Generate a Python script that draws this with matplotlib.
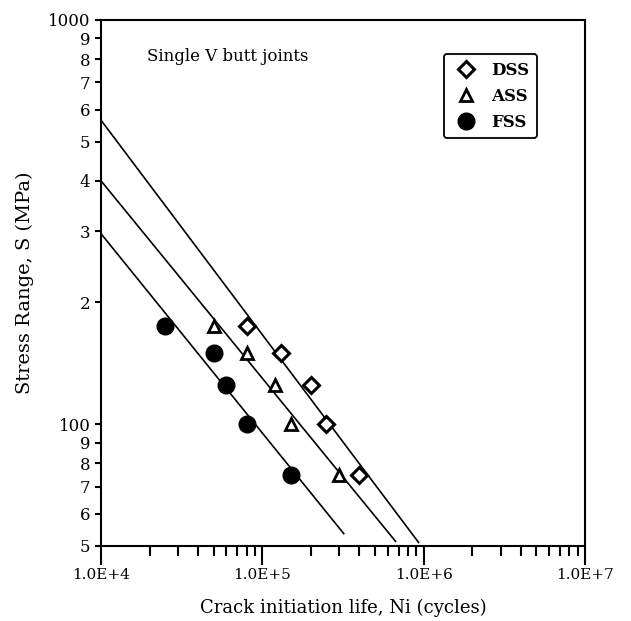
import matplotlib
matplotlib.use("Agg")
import matplotlib.pyplot as plt
from matplotlib.ticker import LogLocator, FixedLocator, FixedFormatter, NullFormatter

# measured data (cycles, MPa)
dss_n = [8e4, 1.3e5, 2e5, 2.5e5, 4e5]
dss_s = [175, 150, 125, 100, 75]
ass_n = [5e4, 8e4, 1.2e5, 1.5e5, 3e5]
ass_s = [175, 150, 125, 100, 75]
fss_n = [2.5e4, 5e4, 6e4, 8e4, 1.5e5]
fss_s = [175, 150, 125, 100, 75]

# fitted S-N lines (end points)
dss_fit_n = [1e4, 9.3e5]
dss_fit_s = [565, 51]
ass_fit_n = [1e4, 6.7e5]
ass_fit_s = [400, 51.3]
fss_fit_n = [1e4, 3.2e5]
fss_fit_s = [296, 53.6]

x_major = [1e4, 1e5, 1e6, 1e7]
x_major_labels = ["1.0E+4", "1.0E+5", "1.0E+6", "1.0E+7"]
y_ticks = [50, 60, 70, 80, 90, 100, 200, 300, 400, 500, 600, 700, 800, 900, 1000]
y_labels = ["5", "6", "7", "8", "9", "100", "2", "3", "4", "5", "6", "7", "8", "9", "1000"]

plt.rcParams["font.family"] = "DejaVu Serif"

fig = plt.figure(figsize=(6.31, 6.21), dpi=100)
ax = fig.add_axes([0.160, 0.121, 0.767, 0.847])

ax.plot(dss_fit_n, dss_fit_s, color="black", lw=1.2)
ax.plot(ass_fit_n, ass_fit_s, color="black", lw=1.2)
ax.plot(fss_fit_n, fss_fit_s, color="black", lw=1.2)

ax.plot(dss_n, dss_s, linestyle="none", marker="D", markersize=8, mfc="white",
        mec="black", mew=2.2, label="DSS")
ax.plot(ass_n, ass_s, linestyle="none", marker="^", markersize=9, mfc="white",
        mec="black", mew=2.0, label="ASS")
ax.plot(fss_n, fss_s, linestyle="none", marker="o", markersize=12, mfc="black",
        mec="black", label="FSS")

ax.set_xscale("log")
ax.set_yscale("log")
ax.set_xlim(1e4, 1e7)
ax.set_ylim(50, 1000)

ax.xaxis.set_major_locator(FixedLocator(x_major))
ax.xaxis.set_major_formatter(FixedFormatter(x_major_labels))
ax.xaxis.set_minor_locator(LogLocator(base=10, subs=range(2, 10)))
ax.xaxis.set_minor_formatter(NullFormatter())

ax.yaxis.set_major_locator(FixedLocator(y_ticks))
ax.yaxis.set_major_formatter(FixedFormatter(y_labels))
ax.yaxis.set_minor_locator(FixedLocator([]))

ax.tick_params(axis="x", which="major", length=14, width=1.5, labelsize=11, pad=2)
ax.tick_params(axis="x", which="minor", length=7, width=1.5)
ax.tick_params(axis="y", which="major", length=4.5, width=1.5, labelsize=12, pad=3)
for t in ax.yaxis.get_major_ticks():
    if t.get_loc() in (100, 1000):
        t.tick1line.set_markersize(9.5)

for sp in ax.spines.values():
    sp.set_linewidth(1.5)

ax.set_xlabel("Crack initiation life, Ni (cycles)", fontsize=13, labelpad=12)
ax.set_ylabel("Stress Range, S (MPa)", fontsize=14, labelpad=10)

ax.text(0.095, 0.93, "Single V butt joints", transform=ax.transAxes,
        fontsize=12, va="center", ha="left")

leg = ax.legend(loc="upper right", bbox_to_anchor=(0.901, 0.935), fancybox=True,
                framealpha=1, edgecolor="black", fontsize=12, handletextpad=0.6,
                borderpad=0.45, labelspacing=0.55, handlelength=1.8,
                borderaxespad=0)
leg.get_frame().set_linewidth(1.3)
for text in leg.get_texts():
    text.set_fontweight("bold")

fig.savefig("out.png", dpi=100)
